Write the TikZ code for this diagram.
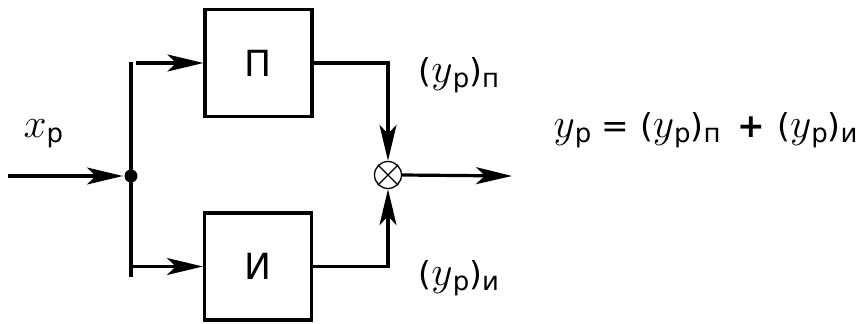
\documentclass[tikz,border=0pt]{standalone}
\usepackage{fontspec}
\setmainfont{DejaVu Sans}
\usetikzlibrary{positioning,arrows.meta}

\newcommand{\ind}[1]{\raisebox{-0.25ex}{\fontsize{26}{26}\selectfont #1}}
\newcommand{\bukva}[1]{{\fontsize{20}{20}\selectfont\scalebox{2}{$#1$}}}
\newcommand{\yr}{\bukva{y}\ind{р}}

\begin{document}
\begin{tikzpicture}[x=1pt,y=-1pt,line width=3.2pt,
    >={Stealth[length=36pt,width=17pt,inset=9pt]},
    blok/.style={draw,rectangle,minimum width=107pt,minimum height=107pt,
      inner sep=0pt,font=\fontsize{36}{36}\selectfont},
    metka/.style={inner sep=0pt,font=\fontsize{33}{36}\selectfont}]
  \useasboundingbox (0,0) rectangle (863,324);
  % blocks
  \node[blok] (P) at (258.5,63) {П};
  \node[blok] (I) at (258,266.5) {И};
  \node[draw,circle,line width=1.3pt,minimum size=27pt,inner sep=0pt] (m) at (388,175) {};
  \draw[line width=1.3pt] (m.45) -- (m.225) (m.135) -- (m.315);
  % junction
  \coordinate (vh) at (8,176);
  \node[circle,fill,inner sep=0pt,minimum size=13pt] (J) at (131,176) {};
  \coordinate (Jt) at (131,62);
  \coordinate (Jb) at (131,277);
  \coordinate (vyh) at (512,176);
  \draw[->] (vh) -- (J);
  \draw (Jt) -- (Jb);
  \draw[->] ([xshift=5pt]Jt |- P.west) -- (P.west);
  \draw[->] (Jb |- I.west) -- (I.west);
  % outputs
  \draw[->] (P.east) -| (m.north);
  \draw[->] (I.east) -| (m.south);
  \draw[->] (m.east) -- (vyh);
  % labels
  \node[metka,anchor=west] (xl) at (22,134) {\bukva{x}\ind{р}};
  \node[metka,anchor=west] (lp) at (417,75) {(\yr)\ind{п}};
  \node[metka,anchor=west] (li) at (417,278) {(\yr)\ind{и}};
  \node[metka,anchor=west] (ur) at (552,130)
    {\yr{} = (\yr)\ind{п}\hspace{6pt} \textbf{+}\hspace{2pt} (\yr)\ind{и}};
\end{tikzpicture}
\end{document}
